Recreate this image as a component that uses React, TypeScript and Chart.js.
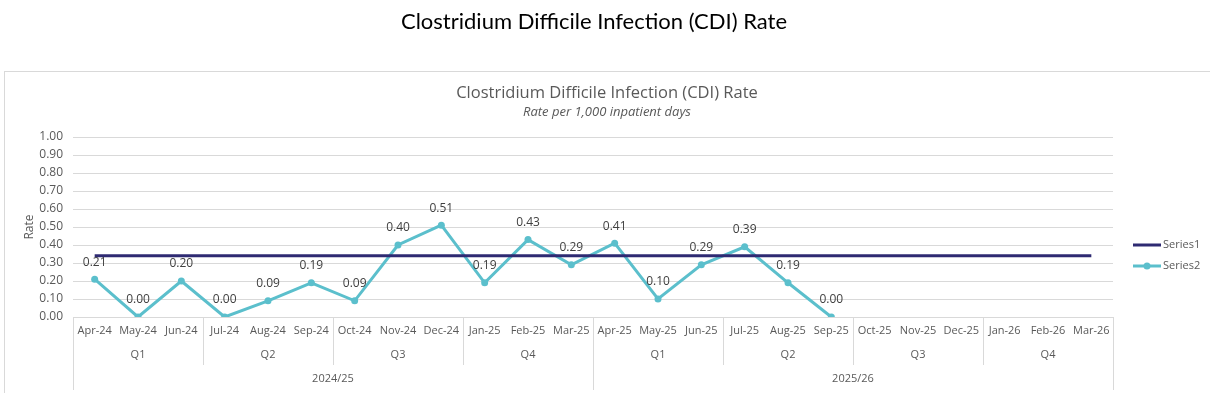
import React, { useEffect, useRef } from "react";
import { Chart, registerables } from "chart.js";

Chart.register(...registerables);

const months = [
  "Apr-24", "May-24", "Jun-24", "Jul-24", "Aug-24", "Sep-24", "Oct-24", "Nov-24", "Dec-24", "Jan-25", "Feb-25", "Mar-25",
  "Apr-25", "May-25", "Jun-25", "Jul-25", "Aug-25", "Sep-25", "Oct-25", "Nov-25", "Dec-25", "Jan-26", "Feb-26", "Mar-26",
];
const quarters = ["Q1", "Q2", "Q3", "Q4", "Q1", "Q2", "Q3", "Q4"];
const years = ["2024/25", "2025/26"];
const series1 = [
  0.34, 0.34, 0.34, 0.34, 0.34, 0.34, 0.34, 0.34, 0.34, 0.34, 0.34, 0.34,
  0.34, 0.34, 0.34, 0.34, 0.34, 0.34, 0.34, 0.34, 0.34, 0.34, 0.34, 0.34,
];
const series2: (number | null)[] = [
  0.21, 0.0, 0.2, 0.0, 0.09, 0.19, 0.09, 0.4, 0.51, 0.19, 0.43, 0.29,
  0.41, 0.1, 0.29, 0.39, 0.19, 0.0, null, null, null, null, null, null,
];
const yTicks = [0, 0.1, 0.2, 0.3, 0.4, 0.5, 0.6, 0.7, 0.8, 0.9, 1.0];

const OUTER_TITLE = "Clostridium Difficile Infection (CDI) Rate";
const INNER_TITLE = "Clostridium Difficile Infection (CDI) Rate";
const SUBTITLE = "Rate per 1,000 inpatient days";

const S1_COLOR = "#2e2a72";
const S2_COLOR = "#5bbfcc";
const TEXT = "#595959";
const GRID = "#d9d9d9";
const FONT = "'Open Sans', sans-serif";

const decorPlugin = {
  id: "decor",
  beforeDraw(chart: any) {
    const ctx = chart.ctx;
    ctx.save();
    ctx.fillStyle = "#ffffff";
    ctx.fillRect(0, 0, chart.width, chart.height);
    ctx.strokeStyle = GRID;
    ctx.lineWidth = 1;
    ctx.strokeRect(4.5, 71.5, 1300, 400);
    ctx.restore();
  },
  afterDraw(chart: any) {
    const ctx = chart.ctx;
    const x = chart.scales.x;
    const area = chart.chartArea;
    ctx.save();
    ctx.fillStyle = "#000000";
    ctx.font = "22px Lato, sans-serif";
    ctx.textAlign = "center";
    ctx.textBaseline = "middle";
    ctx.fillText(OUTER_TITLE, 594, 22);
    ctx.fillStyle = TEXT;
    ctx.font = "16.5px " + FONT;
    ctx.fillText(INNER_TITLE, 607, 93);
    ctx.font = "italic 13px " + FONT;
    ctx.fillText(SUBTITLE, 607, 112);
    ctx.save();
    ctx.translate(30, 227);
    ctx.rotate(-Math.PI / 2);
    ctx.font = "12px " + FONT;
    ctx.fillText("Rate", 0, 0);
    ctx.restore();

    const n = months.length;
    const w = (area.right - area.left) / n;
    ctx.strokeStyle = GRID;
    ctx.lineWidth = 1;
    ctx.font = "11px " + FONT;
    ctx.fillStyle = TEXT;
    months.forEach((m, i) => {
      ctx.fillText(m, x.getPixelForValue(i), 331);
    });
    const qSize = n / quarters.length;
    quarters.forEach((q, i) => {
      const cx = area.left + w * qSize * (i + 0.5);
      ctx.fillText(q, cx, 355);
    });
    const ySize = n / years.length;
    years.forEach((yv, i) => {
      const cx = area.left + w * ySize * (i + 0.5);
      ctx.fillText(yv, cx, 379);
    });
    for (let i = 0; i <= quarters.length; i++) {
      const px = Math.round(area.left + w * qSize * i) + 0.5;
      const isYear = i % (quarters.length / years.length) === 0;
      ctx.beginPath();
      ctx.moveTo(px, area.bottom);
      ctx.lineTo(px, isYear ? 390 : 365);
      ctx.stroke();
    }

    const meta = chart.getDatasetMeta(1);
    ctx.fillStyle = "#404040";
    ctx.font = "12px " + FONT;
    meta.data.forEach((pt: any, i: number) => {
      const v = series2[i];
      if (v === null || v === undefined) return;
      ctx.fillText(v.toFixed(2), pt.x, pt.y - 17);
    });

    const lx0 = 1133, lx1 = 1161;
    ctx.lineWidth = 3;
    ctx.strokeStyle = S1_COLOR;
    ctx.beginPath();
    ctx.moveTo(lx0, 245);
    ctx.lineTo(lx1, 245);
    ctx.stroke();
    ctx.strokeStyle = S2_COLOR;
    ctx.beginPath();
    ctx.moveTo(lx0, 266);
    ctx.lineTo(lx1, 266);
    ctx.stroke();
    ctx.fillStyle = S2_COLOR;
    ctx.beginPath();
    ctx.arc((lx0 + lx1) / 2, 266, 3.5, 0, Math.PI * 2);
    ctx.fill();
    ctx.fillStyle = TEXT;
    ctx.textAlign = "left";
    ctx.font = "11px " + FONT;
    ctx.fillText("Series1", 1163, 245);
    ctx.fillText("Series2", 1163, 266);
    ctx.restore();
  },
};

export default function App() {
  const ref = useRef<HTMLCanvasElement | null>(null);
  useEffect(() => {
    if (!ref.current) return;
    const chart = new Chart(ref.current, {
      type: "line",
      data: {
        labels: months,
        datasets: [
          {
            label: "Series1",
            data: series1,
            borderColor: S1_COLOR,
            backgroundColor: S1_COLOR,
            borderWidth: 3,
            pointRadius: 0,
            tension: 0,
          },
          {
            label: "Series2",
            data: series2,
            borderColor: S2_COLOR,
            backgroundColor: S2_COLOR,
            borderWidth: 3,
            pointRadius: 3.5,
            pointBorderWidth: 0,
            tension: 0,
            spanGaps: false,
          },
        ],
      },
      options: {
        animation: false,
        responsive: false,
        layout: { padding: { left: 23, right: 97, top: 137, bottom: 0 } },
        plugins: {
          legend: { display: false },
          title: { display: false },
          tooltip: { enabled: false },
        },
        scales: {
          x: {
            type: "category",
            offset: true,
            grid: { display: false },
            border: { display: false },
            ticks: { display: false },
            afterFit: (s: any) => {
              s.height = 76;
            },
          },
          y: {
            min: 0,
            max: 1,
            afterBuildTicks: (s: any) => {
              s.ticks = yTicks.map((v) => ({ value: v }));
            },
            grid: { color: GRID, drawTicks: false },
            border: { display: false },
            ticks: {
              padding: 10,
              color: TEXT,
              font: { family: "'Open Sans', sans-serif", size: 12 },
              callback: (v: any) => Number(v).toFixed(2),
            },
            afterFit: (s: any) => {
              s.width = 50;
            },
          },
        },
      },
      plugins: [decorPlugin],
    });
    return () => chart.destroy();
  }, []);
  return (
    <div style={{ position: "absolute", left: 0, top: 0, width: 1210, height: 393 }}>
      <canvas ref={ref} width={1210} height={393} style={{ display: "block" }} />
    </div>
  );
}
